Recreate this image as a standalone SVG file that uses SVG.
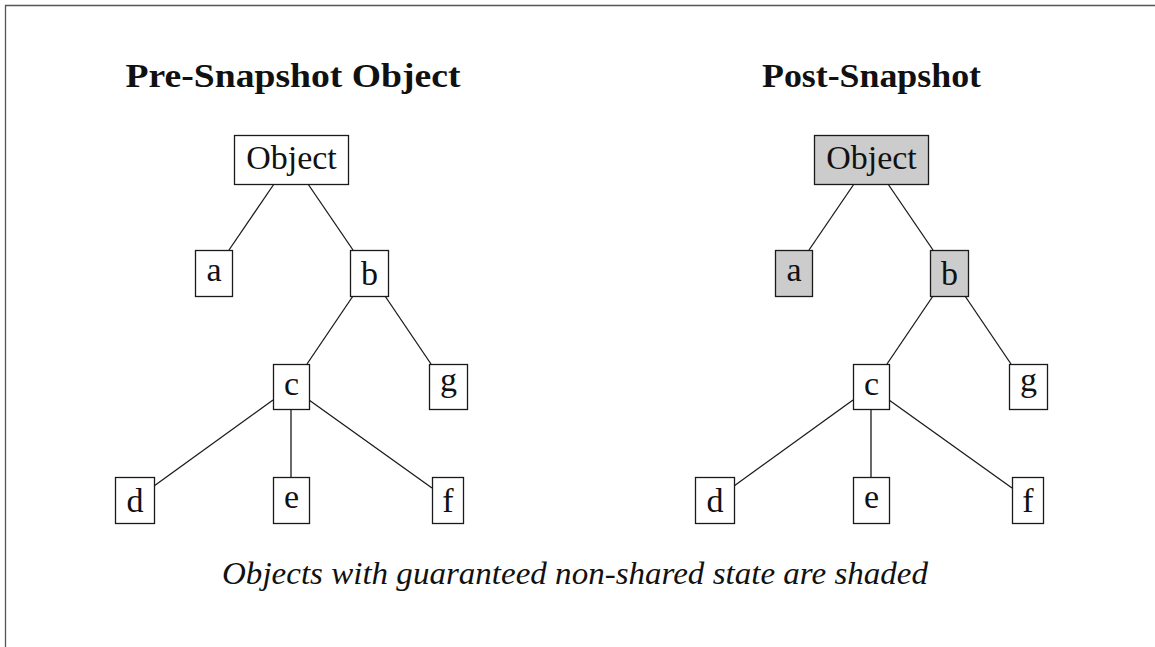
<svg xmlns="http://www.w3.org/2000/svg" width="1155" height="647" viewBox="0 0 1155 647">
<style>
.box{fill:#ffffff;stroke:#1a1a1a;stroke-width:1.3}
.shaded{fill:#cccccc}
.lbl{font-family:"Liberation Serif","Times New Roman",serif;font-size:34px;fill:#111;text-anchor:middle}
.title{font-family:"Liberation Serif","Times New Roman",serif;font-size:33px;font-weight:bold;fill:#111;text-anchor:middle}
.cap{font-family:"Liberation Serif","Times New Roman",serif;font-size:31px;font-style:italic;fill:#111;text-anchor:middle}
.edge{stroke:#1a1a1a;stroke-width:1.3;fill:none}
</style>
<rect width="1155" height="647" fill="#ffffff"/>
<path d="M5.5,647 V5.5 H1155" fill="none" stroke="#555555" stroke-width="1.3"/>
<text class="title" x="293" y="87" textLength="335" lengthAdjust="spacingAndGlyphs">Pre-Snapshot Object</text>
<text class="title" x="871.5" y="87" textLength="219" lengthAdjust="spacingAndGlyphs">Post-Snapshot</text>
<g id="connectors">
<line class="edge" x1="274" y1="184" x2="229" y2="250"/>
<line class="edge" x1="308" y1="184" x2="353" y2="250"/>
<line class="edge" x1="353" y1="296" x2="307" y2="364"/>
<line class="edge" x1="385" y1="296" x2="431" y2="364"/>
<line class="edge" x1="273" y1="400" x2="154" y2="486"/>
<line class="edge" x1="291" y1="409" x2="291" y2="477"/>
<line class="edge" x1="309" y1="400" x2="432" y2="488"/>
<line class="edge" x1="854" y1="184" x2="809" y2="250"/>
<line class="edge" x1="888" y1="184" x2="933" y2="250"/>
<line class="edge" x1="933" y1="296" x2="887" y2="364"/>
<line class="edge" x1="965" y1="296" x2="1011" y2="364"/>
<line class="edge" x1="853" y1="400" x2="734" y2="486"/>
<line class="edge" x1="871" y1="409" x2="871" y2="477"/>
<line class="edge" x1="889" y1="400" x2="1012" y2="488"/>
</g>
<g id="L-Object"><rect class="box" x="234.5" y="135.5" width="114" height="49"/><text class="lbl" x="291.5" y="169">Object</text></g>
<g id="L-a"><rect class="box" x="195.5" y="250.5" width="37" height="46"/><text class="lbl" x="214" y="281">a</text></g>
<g id="L-b"><rect class="box" x="350.5" y="250.5" width="38" height="46"/><text class="lbl" x="369.5" y="285">b</text></g>
<g id="L-c"><rect class="box" x="273.5" y="364.5" width="36" height="45"/><text class="lbl" x="291.5" y="394.5">c</text></g>
<g id="L-g"><rect class="box" x="429.5" y="364.5" width="38" height="45"/><text class="lbl" x="448.5" y="390.5">g</text></g>
<g id="L-d"><rect class="box" x="115.5" y="477.5" width="39" height="46"/><text class="lbl" x="135" y="511.5">d</text></g>
<g id="L-e"><rect class="box" x="273.5" y="477.5" width="36" height="46"/><text class="lbl" x="291.5" y="508">e</text></g>
<g id="L-f"><rect class="box" x="432.5" y="477.5" width="31" height="46"/><text class="lbl" x="448" y="511.5">f</text></g>
<g id="R-Object"><rect class="box shaded" x="814.5" y="135.5" width="114" height="49"/><text class="lbl" x="871.5" y="169">Object</text></g>
<g id="R-a"><rect class="box shaded" x="775.5" y="250.5" width="37" height="46"/><text class="lbl" x="794" y="281">a</text></g>
<g id="R-b"><rect class="box shaded" x="930.5" y="250.5" width="38" height="46"/><text class="lbl" x="949.5" y="285">b</text></g>
<g id="R-c"><rect class="box" x="853.5" y="364.5" width="36" height="45"/><text class="lbl" x="871.5" y="394.5">c</text></g>
<g id="R-g"><rect class="box" x="1009.5" y="364.5" width="38" height="45"/><text class="lbl" x="1028.5" y="390.5">g</text></g>
<g id="R-d"><rect class="box" x="695.5" y="477.5" width="39" height="46"/><text class="lbl" x="715" y="511.5">d</text></g>
<g id="R-e"><rect class="box" x="853.5" y="477.5" width="36" height="46"/><text class="lbl" x="871.5" y="508">e</text></g>
<g id="R-f"><rect class="box" x="1012.5" y="477.5" width="31" height="46"/><text class="lbl" x="1028" y="511.5">f</text></g>
<text class="cap" x="575" y="584" textLength="706" lengthAdjust="spacingAndGlyphs">Objects with guaranteed non-shared state are shaded</text>
</svg>
